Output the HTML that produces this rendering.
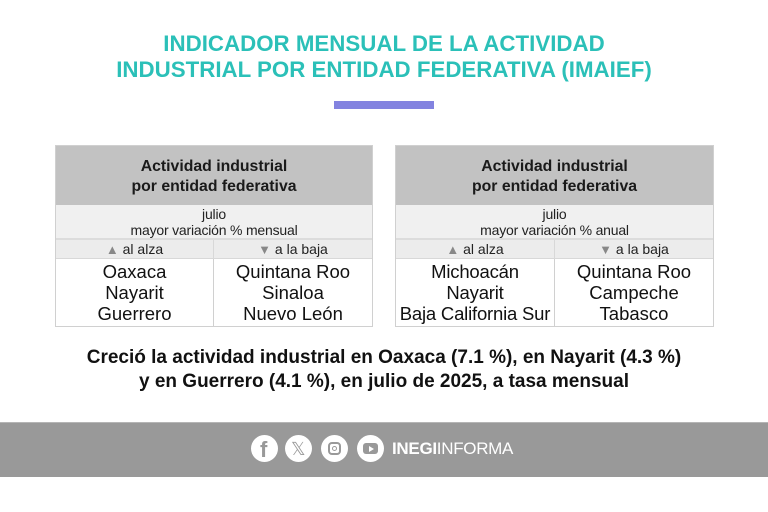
<!DOCTYPE html>
<html><head><meta charset="utf-8"><style>
*{margin:0;padding:0;box-sizing:border-box}
body{width:768px;height:512px;background:#fff;position:relative;overflow:hidden;font-family:"Liberation Sans",Arial,sans-serif;color:#111}
.t{position:absolute;left:0;width:768px;text-align:center;color:#2bc0b8;font-weight:bold;font-size:22.3px;line-height:24px;white-space:nowrap}
.bar{position:absolute;left:334px;top:101px;width:100px;height:8px;background:#8383e0}
.tbl{position:absolute;top:145px;height:182px;border:1px solid #d0d0d0;background:#fff}
.hd{position:absolute;left:0;right:0;top:0;height:59px;background:#c2c2c2;text-align:center;font-weight:bold;font-size:15.8px;line-height:20px;padding-top:11px;color:#1a1a1a;white-space:nowrap}
.sb{position:absolute;left:0;right:0;top:59px;height:35px;background:#f0f0f0;text-align:center;font-size:14px;line-height:16px;padding-top:1px;color:#222;border-bottom:2px solid #dcdcdc;white-space:nowrap;letter-spacing:-0.2px}
.al{position:absolute;top:94px;height:19px;background:#ececec;text-align:center;font-size:14px;line-height:18px;color:#222;border-bottom:1px solid #d8d8d8;white-space:nowrap}
.bd{position:absolute;top:113px;bottom:0;text-align:center;font-size:18.5px;line-height:21px;padding-top:2px;color:#111;white-space:nowrap}
.tri{color:#888;font-size:13px}
.bl{position:absolute;left:0;width:768px;text-align:center;font-weight:bold;font-size:19px;line-height:24px;color:#111;white-space:nowrap}
.ft{position:absolute;left:0;top:422px;width:768px;height:55px;background:#999;border-top:1px solid #b5b5b5}
.ic{position:absolute;top:435px;width:27px;height:27px;border-radius:50%;background:#fff}
</style></head><body>
<div class="t" style="top:32px">INDICADOR MENSUAL DE LA ACTIVIDAD</div>
<div class="t" style="top:58px">INDUSTRIAL POR ENTIDAD FEDERATIVA (IMAIEF)</div>
<div class="bar"></div>

<div class="tbl" style="left:55px;width:318px">
 <div class="hd">Actividad industrial<br>por entidad federativa</div>
 <div class="sb">julio<br>mayor variación % mensual</div>
 <div class="al" style="left:0;width:158px;border-right:1px solid #d8d8d8"><span class="tri">▲</span> al alza</div>
 <div class="al" style="left:158px;right:0"><span class="tri">▼</span> a la baja</div>
 <div class="bd" style="left:0;width:158px;border-right:1px solid #d0d0d0">Oaxaca<br>Nayarit<br>Guerrero</div>
 <div class="bd" style="left:158px;right:0">Quintana Roo<br>Sinaloa<br>Nuevo León</div>
</div>

<div class="tbl" style="left:395px;width:319px">
 <div class="hd">Actividad industrial<br>por entidad federativa</div>
 <div class="sb">julio<br>mayor variación % anual</div>
 <div class="al" style="left:0;width:159px;border-right:1px solid #d8d8d8"><span class="tri">▲</span> al alza</div>
 <div class="al" style="left:159px;right:0"><span class="tri">▼</span> a la baja</div>
 <div class="bd" style="left:0;width:159px;border-right:1px solid #d0d0d0;letter-spacing:-0.2px">Michoacán<br>Nayarit<br>Baja California Sur</div>
 <div class="bd" style="left:159px;right:0">Quintana Roo<br>Campeche<br>Tabasco</div>
</div>

<div class="bl" style="top:346px">Creció la actividad industrial en Oaxaca (7.1 %), en Nayarit (4.3 %)</div>
<div class="bl" style="top:370px">y en Guerrero (4.1 %), en julio de 2025, a tasa mensual</div>

<div class="ft"></div>
<div class="ic" style="left:251px"><span style="position:absolute;left:9px;top:3px;color:#999;font-weight:bold;font-size:22px;line-height:24px">f</span></div>
<div class="ic" style="left:285px"><span style="position:absolute;left:6px;top:3px;color:#999;font-size:18px;line-height:22px">𝕏</span></div>
<div class="ic" style="left:321px"><div style="position:absolute;left:7px;top:7px;width:13px;height:13px;border:2px solid #999;border-radius:4px"></div><div style="position:absolute;left:11px;top:11px;width:5px;height:5px;border:1.5px solid #999;border-radius:50%"></div></div>
<div class="ic" style="left:357px"><div style="position:absolute;left:6px;top:8px;width:15px;height:11px;background:#999;border-radius:3px"></div><div style="position:absolute;left:12px;top:11px;width:0;height:0;border-left:5px solid #fff;border-top:3px solid transparent;border-bottom:3px solid transparent"></div></div>
<div style="position:absolute;left:392px;top:438px;color:#fff;font-size:17px;line-height:22px;letter-spacing:-0.3px"><b>INEGI</b>INFORMA</div>
</body></html>
